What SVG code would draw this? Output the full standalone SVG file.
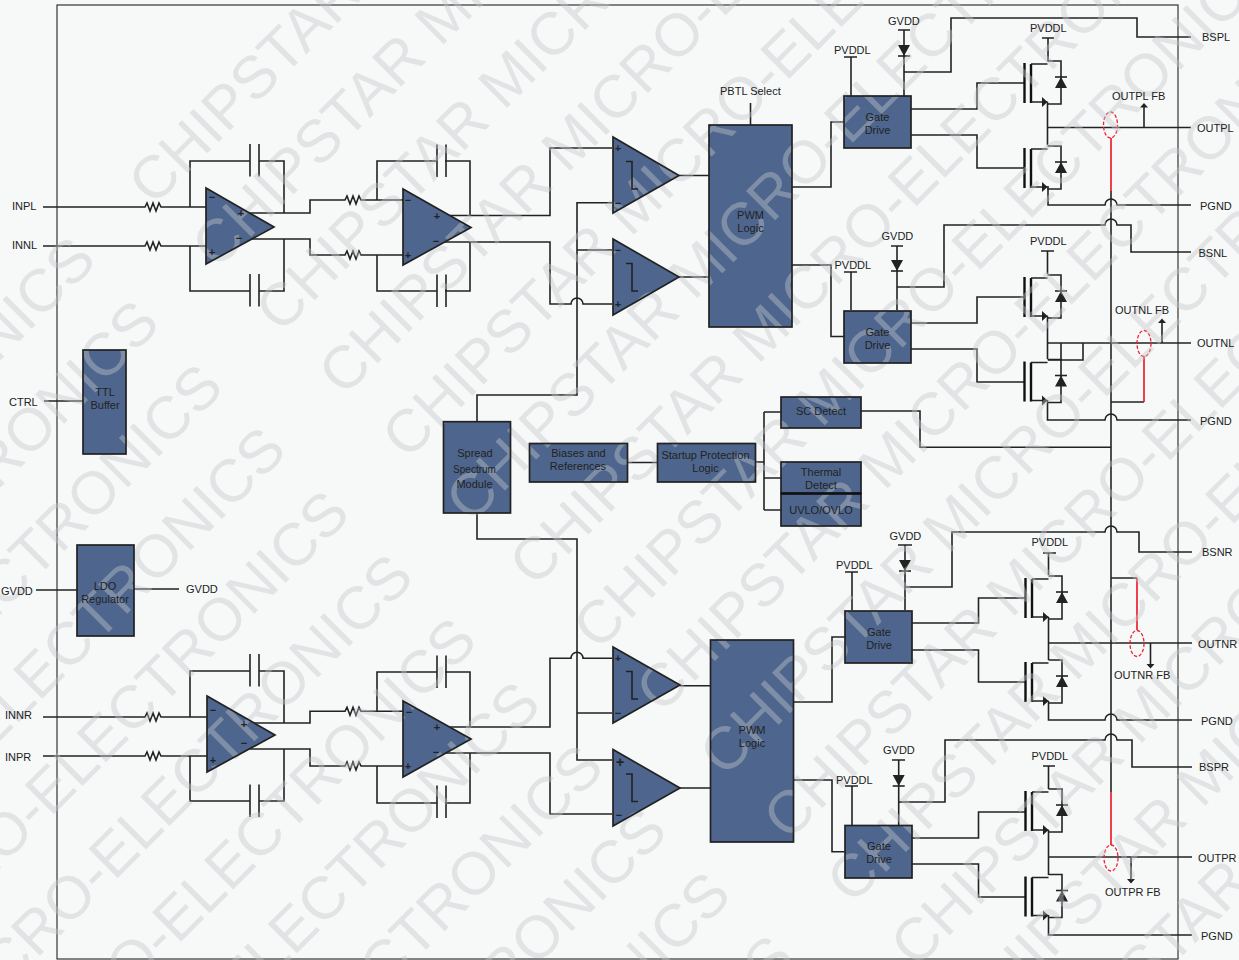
<svg xmlns="http://www.w3.org/2000/svg" width="1239" height="960" viewBox="0 0 1239 960">
<style>
text{font-family:"Liberation Sans",Arial,sans-serif;font-size:11px;fill:#222;dominant-baseline:central}
.c{text-anchor:middle}
.s{font-size:11px;font-weight:bold;text-anchor:middle}
text.w{font-size:60px;fill:#c3c6ca;fill-opacity:.42;dominant-baseline:auto}
.l,.l path{fill:none;stroke:#222;stroke-width:1.6}
.box{fill:#4e668d;stroke:#222;stroke-width:1.7}
.frame{fill:none;stroke:#222;stroke-width:1.7}
.tri{fill:#4e668d}
.d{fill:#222;stroke:none}
.w1{fill:none;stroke:#222;stroke-width:1.6}
.t{fill:none;stroke:#111;stroke-width:2.4}
.r{fill:none;stroke:#ee2030;stroke-width:1.7}
.e{fill:none;stroke:#ee2030;stroke-width:1.3;stroke-dasharray:3.5 1.8}
</style>
<defs>
<path id="res" class="w1" d="M0 0h2l2-4 3 8 3-8 3 8 3-8 2 4h2"/>
<g id="mos">
<path class="t" d="M0 0V40M6.500 1V40"/>
<path class="w1" d="M6.500 1H23M6.500 39H23M23-2H36.500V41H23M36.500-2V14M36.500 25V41"/>
<path class="d" d="M17.500 34 23 39 17.500 44ZM30.500 25H42.500L36.500 14Z"/>
<path class="w1" d="M30.500 14H42.500"/>
</g>
<g id="dio"><path class="d" d="M-6 0H6L0 11Z"/><path class="w1" d="M-6 11H6"/></g>
<g id="cap-h"><path class="w1" d="M0-16.500V16M9-16.500V16"/></g>
<g id="hys"><path class="w1" d="M0 0H6V27.500H12"/></g>
<path id="up" class="d" d="M0 0 4-4.500 8 0Z"/>
<g id="wm" transform="rotate(-45)">
<text class="w" x="-38" y="255">CHIPSTAR MICRO-ELECTRONICS</text>
<text class="w" x="-38" y="345">CHIPSTAR MICRO-ELECTRONICS</text>
<text class="w" x="-38" y="435">CHIPSTAR MICRO-ELECTRONICS</text>
<text class="w" x="-38" y="524">CHIPSTAR MICRO-ELECTRONICS</text>
<text class="w" x="-38" y="614">CHIPSTAR MICRO-ELECTRONICS</text>
<text class="w" x="-38" y="704">CHIPSTAR MICRO-ELECTRONICS</text>
<text class="w" x="-38" y="794">CHIPSTAR MICRO-ELECTRONICS</text>
<text class="w" x="-38" y="884">CHIPSTAR MICRO-ELECTRONICS</text>
<text class="w" x="-38" y="973">CHIPSTAR MICRO-ELECTRONICS</text>
<text class="w" x="-38" y="1063">CHIPSTAR MICRO-ELECTRONICS</text>
<text class="w" x="-38" y="1153">CHIPSTAR MICRO-ELECTRONICS</text>
<text class="w" x="-38" y="1243">CHIPSTAR MICRO-ELECTRONICS</text>
<text class="w" x="-38" y="1333">CHIPSTAR MICRO-ELECTRONICS</text>
<text class="w" x="-38" y="1422">CHIPSTAR MICRO-ELECTRONICS</text>
<text class="w" x="-38" y="1512">CHIPSTAR MICRO-ELECTRONICS</text>
<text class="w" x="-1078" y="255">CHIPSTAR MICRO-ELECTRONICS</text>
<text class="w" x="-1078" y="345">CHIPSTAR MICRO-ELECTRONICS</text>
<text class="w" x="-1078" y="435">CHIPSTAR MICRO-ELECTRONICS</text>
<text class="w" x="-1078" y="524">CHIPSTAR MICRO-ELECTRONICS</text>
<text class="w" x="-1078" y="614">CHIPSTAR MICRO-ELECTRONICS</text>
<text class="w" x="-1078" y="704">CHIPSTAR MICRO-ELECTRONICS</text>
<text class="w" x="-1078" y="794">CHIPSTAR MICRO-ELECTRONICS</text>
<text class="w" x="-1078" y="884">CHIPSTAR MICRO-ELECTRONICS</text>
<text class="w" x="-1078" y="973">CHIPSTAR MICRO-ELECTRONICS</text>
<text class="w" x="-1078" y="1063">CHIPSTAR MICRO-ELECTRONICS</text>
<text class="w" x="-1078" y="1153">CHIPSTAR MICRO-ELECTRONICS</text>
<text class="w" x="-1078" y="1243">CHIPSTAR MICRO-ELECTRONICS</text>
</g>
<clipPath id="k1"><path d="M206 188V264L274 227Z"/></clipPath>
<clipPath id="k2"><path d="M403 189V265L471 227.500Z"/></clipPath>
<clipPath id="k3"><path d="M613 137V213L679 175.500Z"/></clipPath>
<clipPath id="k4"><path d="M613 239V315L679 277Z"/></clipPath>
<clipPath id="k5"><path d="M207 696V772L275 735Z"/></clipPath>
<clipPath id="k6"><path d="M403 701V777L471 739Z"/></clipPath>
<clipPath id="k7"><path d="M613 647V723L680 685Z"/></clipPath>
<clipPath id="k8"><path d="M613 749.500V826L680 788Z"/></clipPath>
<clipPath id="b1"><rect x="709" y="125" width="83" height="202"/></clipPath>
<clipPath id="b2"><rect x="710.500" y="640" width="83" height="202"/></clipPath>
<clipPath id="b3"><rect x="83" y="350" width="43" height="104"/></clipPath>
<clipPath id="b4"><rect x="77" y="545" width="57" height="91"/></clipPath>
<clipPath id="b5"><rect x="443.500" y="421.700" width="67" height="91.300"/></clipPath>
<clipPath id="b6"><rect x="529.500" y="443.500" width="98" height="38.500"/></clipPath>
<clipPath id="b7"><rect x="657.500" y="443.500" width="98" height="38.500"/></clipPath>
<clipPath id="b8"><rect x="781" y="397" width="80" height="31"/></clipPath>
<clipPath id="b9"><rect x="781" y="462" width="80" height="31.500"/></clipPath>
<clipPath id="b10"><rect x="781" y="493.500" width="80" height="32.500"/></clipPath>
<clipPath id="b11"><rect x="844" y="96" width="67" height="52"/></clipPath>
<clipPath id="b12"><rect x="844" y="311" width="67" height="52"/></clipPath>
<clipPath id="b13"><rect x="845" y="611" width="67" height="52"/></clipPath>
<clipPath id="b14"><rect x="845" y="825.500" width="67" height="52.500"/></clipPath>
</defs>
<rect width="1239" height="960" fill="#f7f9f9"/>
<rect x="57" y="5" width="1121" height="954" fill="none" stroke="#333" stroke-width="1.200"/>

<g id="connectors" class="l">
<path d="M43 207H143M163 207H206M43 246H143M163 246H206"/>
<path d="M190 207V161H250M259 161H284V213M190 246V291H250M259 291H284V239"/>
<path d="M250 213H310V200H343M363 200H403M250 239H310V255H343M363 255H403"/>
<path d="M377 200V161H437M445 161H470V216M377 255V291H437M445 291H470V242"/>
<path d="M450 215.500H550V148H612M445 242H550V304H571A6 6 0 0 1 583 304H612"/>
<path d="M679 175.500H709M679 277H709"/>
<path d="M750.500 103V125"/>
<path d="M792 187H831V122H844M792 265H831V336.500H844"/>
<path d="M477 421.700V395H577V202.700H612M577 250H612"/>
<path d="M627.500 462.500H657.500M755.700 462H764M764 412V510M764 412H781M764 478H781M764 510H781"/>
<path d="M861 411H920V447.300H1111"/>
<path d="M477 513V539H577V760H612M577 713H612"/>
<path d="M44 401H83M36 590H77M134 589H179"/>
<path d="M43 717H143M163 717H207M43 756H143M163 756H207"/>
<path d="M190 717V671H250M259 671H284V723M190 756V801H250M259 801H284V749"/>
<path d="M250 723H310V711.300H343M363 711.300H403M250 749H310V766H343M363 766H403"/>
<path d="M377 711.300V672H437M445 672H470V727M377 766V803H437M445 803H470V753"/>
<path d="M450 727H550V658.300H571A6 6 0 0 1 583 658.300H612M445 753H550V814H612"/>
<path d="M680 685.700H710.500M680 788H710.500"/>
<path d="M793.500 702H832V637H845M793.500 780H832V851.700H845"/>
<path d="M1111 191V792"/>
<path d="M851 57V96M844 57H857M904 30V96M898 30H910M904 72H951V18H1137V37H1191"/>
<path d="M911 109H977V83H1024M911 135H977V168H1024"/>
<path d="M1048 38V61M1042 38H1054M1047.500 102V145M1048 186V205H1105A6 6 0 0 1 1117 205H1191M1047 127.500H1191M1144 127.500V107"/>
<path d="M851 272V310M844 272H857M897 246V310M891 246H903M897 287H944V225H1105A6 6 0 0 1 1117 225H1131V252H1191"/>
<path d="M911 323H977V297H1024M911 349H977V382H1024"/>
<path d="M1047.500 251V274M1041 251H1054M1047.500 316V359M1047 343H1191M1061 343V360M1083 343V360H1048M1047.500 400V420H1105A6 6 0 0 1 1117 420H1191M1162 343V323M1111 402H1144"/>
<path d="M852 572V610M845 572H858M905 545V610M898 545H912M905 587H952V532H1105A6 6 0 0 1 1117 532H1139V552H1192"/>
<path d="M912 623H978.500V598H1025M912 650H978.500V682H1025"/>
<path d="M1048.500 553V575M1043 553H1056M1048.500 617V660M1048 643H1192M1048.500 701V720H1105A6 6 0 0 1 1117 720H1192M1150.500 643V664M1111 578H1137"/>
<path d="M852 786V825M845 786H858M898.700 760V825M892 760H905M898.700 802H945V740H1105A6 6 0 0 1 1117 740H1132V767H1192"/>
<path d="M912 838H978.500V812H1025M912 864H978.500V897H1025"/>
<path d="M1048.500 766V789M1043 766H1055M1048.500 830V875M1048 857H1192M1048.500 915V935H1192M1131 857V879"/>
</g>
<g id="feedback-red">
<path class="r" d="M1111 138V191M1144 402V356M1137 578V630M1111 792V845"/>
<ellipse class="e" cx="1110.500" cy="125" rx="7" ry="13"/>
<ellipse class="e" cx="1144" cy="343.500" rx="7" ry="13"/>
<ellipse class="e" cx="1137" cy="643.500" rx="7" ry="13"/>
<ellipse class="e" cx="1111" cy="858" rx="7" ry="13"/>
</g>

<g id="passives-upper">
<use href="#res" x="143" y="207"/><use href="#res" x="143" y="246"/>
<use href="#res" x="343" y="200"/><use href="#res" x="343" y="255"/>
<use href="#cap-h" x="250" y="160.500"/><use href="#cap-h" x="250" y="290.500"/>
<use href="#cap-h" x="437" y="161"/><use href="#cap-h" x="437" y="291"/>
</g>
<g id="passives-lower">
<use href="#res" x="143" y="717"/><use href="#res" x="143" y="756"/>
<use href="#res" x="343" y="711.300"/><use href="#res" x="343" y="766"/>
<use href="#cap-h" x="250" y="670.500"/><use href="#cap-h" x="250" y="801"/>
<use href="#cap-h" x="437" y="672"/><use href="#cap-h" x="437" y="802"/>
</g>
<g id="mos-pl"><use href="#mos" x="1024.500" y="63"/><use href="#mos" x="1024.500" y="148"/></g>
<g id="mos-nl"><use href="#mos" x="1024.500" y="277"/><use href="#mos" x="1024.500" y="361.500"/></g>
<g id="mos-nr"><use href="#mos" x="1025.500" y="578"/><use href="#mos" x="1025.500" y="662"/></g>
<g id="mos-pr"><use href="#mos" x="1025.500" y="791"/><use href="#mos" x="1025.500" y="876.500"/></g>
<g id="diodes"><use href="#dio" x="904" y="45"/><use href="#dio" x="897" y="260"/><use href="#dio" x="905" y="560"/><use href="#dio" x="898.700" y="775"/></g>
<g id="fb-arrows"><use href="#up" x="1140" y="107.500"/><use href="#up" x="1158" y="323"/><use href="#up" transform="translate(1146.500 664) scale(1 -1)"/><use href="#up" transform="translate(1127 879) scale(1 -1)"/></g>

<g id="watermark"><use href="#wm"/></g>

<g id="amp-l1"><path class="tri" d="M206 188V264L274 227Z"/><use href="#wm" clip-path="url(#k1)"/><path class="frame" d="M206 188V264L274 227Z"/><text class="s" x="212" y="197">−</text><text class="s" x="212" y="252">+</text><text class="s" x="241" y="213">+</text><text class="s" x="239" y="238">−</text></g>
<g id="amp-l2"><path class="tri" d="M403 189V265L471 227.500Z"/><use href="#wm" clip-path="url(#k2)"/><path class="frame" d="M403 189V265L471 227.500Z"/><text class="s" x="408" y="200">−</text><text class="s" x="408" y="255">+</text><text class="s" x="437" y="216">+</text><text class="s" x="436" y="241">−</text></g>
<g id="cmp-l1"><path class="tri" d="M613 137V213L679 175.500Z"/><use href="#wm" clip-path="url(#k3)"/><path class="frame" d="M613 137V213L679 175.500Z"/><text class="s" x="618" y="148">+</text><text class="s" x="618" y="203">−</text><use href="#hys" x="626" y="161.500"/></g>
<g id="cmp-l2"><path class="tri" d="M613 239V315L679 277Z"/><use href="#wm" clip-path="url(#k4)"/><path class="frame" d="M613 239V315L679 277Z"/><text class="s" x="618" y="250">−</text><text class="s" x="618" y="304">+</text><use href="#hys" x="626" y="263.500"/></g>
<g id="pwm-l"><rect class="tri" x="709" y="125" width="83" height="202"/><use href="#wm" clip-path="url(#b1)"/><rect class="frame" x="709" y="125" width="83" height="202"/><text class="c" x="750.500" y="215">PWM</text><text class="c" x="750.500" y="228">Logic</text></g>

<g id="amp-r1"><path class="tri" d="M207 696V772L275 735Z"/><use href="#wm" clip-path="url(#k5)"/><path class="frame" d="M207 696V772L275 735Z"/><text class="s" x="213" y="710">−</text><text class="s" x="213" y="760">+</text><text class="s" x="244" y="724">+</text><text class="s" x="244" y="743">−</text></g>
<g id="amp-r2"><path class="tri" d="M403 701V777L471 739Z"/><use href="#wm" clip-path="url(#k6)"/><path class="frame" d="M403 701V777L471 739Z"/><text class="s" x="409" y="712">−</text><text class="s" x="408" y="766">+</text><text class="s" x="437" y="727">+</text><text class="s" x="436" y="752">−</text></g>
<g id="cmp-r1"><path class="tri" d="M613 647V723L680 685Z"/><use href="#wm" clip-path="url(#k7)"/><path class="frame" d="M613 647V723L680 685Z"/><text class="s" x="618" y="658">+</text><text class="s" x="618" y="713">−</text><use href="#hys" x="626" y="671.500"/></g>
<g id="cmp-r2"><path class="tri" d="M613 749.500V826L680 788Z"/><use href="#wm" clip-path="url(#k8)"/><path class="frame" d="M613 749.500V826L680 788Z"/><text class="s" x="620" y="762" style="font-size:14px">+</text><text class="s" x="619" y="815">−</text><use href="#hys" x="626" y="774"/></g>
<g id="pwm-r"><rect class="tri" x="710.500" y="640" width="83" height="202"/><use href="#wm" clip-path="url(#b2)"/><rect class="frame" x="710.500" y="640" width="83" height="202"/><text class="c" x="752" y="730">PWM</text><text class="c" x="752" y="743">Logic</text></g>

<g id="ttl"><rect class="tri" x="83" y="350" width="43" height="104"/><use href="#wm" clip-path="url(#b3)"/><rect class="frame" x="83" y="350" width="43" height="104"/><text class="c" x="105" y="392">TTL</text><text class="c" x="105" y="405">Buffer</text></g>
<g id="ldo"><rect class="tri" x="77" y="545" width="57" height="91"/><use href="#wm" clip-path="url(#b4)"/><rect class="frame" x="77" y="545" width="57" height="91"/><text class="c" x="105" y="586">LDO</text><text class="c" x="105" y="599">Regulator</text></g>
<g id="spread"><rect class="tri" x="443.500" y="421.700" width="67" height="91.300"/><use href="#wm" clip-path="url(#b5)"/><rect class="frame" x="443.500" y="421.700" width="67" height="91.300"/><text class="c" x="475" y="453">Spread</text><text class="c" x="474.500" y="469" style="font-size:10px">Spectrum</text><text class="c" x="474.500" y="484">Module</text></g>
<g id="biases"><rect class="tri" x="529.500" y="443.500" width="98" height="38.500"/><use href="#wm" clip-path="url(#b6)"/><rect class="frame" x="529.500" y="443.500" width="98" height="38.500"/><text class="c" x="578.500" y="453">Biases and</text><text class="c" x="578" y="466">References</text></g>
<g id="startup"><rect class="tri" x="657.500" y="443.500" width="98" height="38.500"/><use href="#wm" clip-path="url(#b7)"/><rect class="frame" x="657.500" y="443.500" width="98" height="38.500"/><text class="c" x="705.500" y="455">Startup Protection</text><text class="c" x="705.500" y="468">Logic</text></g>
<g id="sc"><rect class="tri" x="781" y="397" width="80" height="31"/><use href="#wm" clip-path="url(#b8)"/><rect class="frame" x="781" y="397" width="80" height="31"/><text class="c" x="821" y="411">SC Detect</text></g>
<g id="thermal"><rect class="tri" x="781" y="462" width="80" height="31.500"/><use href="#wm" clip-path="url(#b9)"/><rect class="frame" x="781" y="462" width="80" height="31.500"/><text class="c" x="821" y="472">Thermal</text><text class="c" x="821" y="485">Detect</text></g>
<g id="uvlo"><rect class="tri" x="781" y="493.500" width="80" height="32.500"/><use href="#wm" clip-path="url(#b10)"/><rect class="frame" x="781" y="493.500" width="80" height="32.500"/><path d="M781 493.500H861" stroke="#111" stroke-width="2.400"/><text class="c" x="821" y="510">UVLO/OVLO</text></g>

<g id="gd-pl"><rect class="tri" x="844" y="96" width="67" height="52"/><use href="#wm" clip-path="url(#b11)"/><rect class="frame" x="844" y="96" width="67" height="52"/><text class="c" x="877.500" y="116.500">Gate</text><text class="c" x="877.500" y="130">Drive</text></g>
<g id="gd-nl"><rect class="tri" x="844" y="311" width="67" height="52"/><use href="#wm" clip-path="url(#b12)"/><rect class="frame" x="844" y="311" width="67" height="52"/><text class="c" x="877.500" y="331.500">Gate</text><text class="c" x="877.500" y="345">Drive</text></g>
<g id="gd-nr"><rect class="tri" x="845" y="611" width="67" height="52"/><use href="#wm" clip-path="url(#b13)"/><rect class="frame" x="845" y="611" width="67" height="52"/><text class="c" x="879" y="631.500">Gate</text><text class="c" x="879" y="644.500">Drive</text></g>
<g id="gd-pr"><rect class="tri" x="845" y="825.500" width="67" height="52.500"/><use href="#wm" clip-path="url(#b14)"/><rect class="frame" x="845" y="825.500" width="67" height="52.500"/><text class="c" x="879" y="846">Gate</text><text class="c" x="879" y="859">Drive</text></g>

<g id="labels">
<text x="720" y="90.500">PBTL Select</text>
<text x="12" y="206">INPL</text><text x="12" y="245">INNL</text><text x="9" y="401.500">CTRL</text><text x="1" y="590.500">GVDD</text><text x="186" y="589">GVDD</text><text x="5" y="714.500">INNR</text><text x="5" y="757">INPR</text>
<text x="834" y="50">PVDDL</text><text x="888" y="21">GVDD</text><text x="1030" y="28">PVDDL</text>
<text x="834.500" y="265">PVDDL</text><text x="881.500" y="236">GVDD</text><text x="1030" y="241">PVDDL</text>
<text x="836" y="565">PVDDL</text><text x="889.500" y="535.500">GVDD</text><text x="1031.500" y="542">PVDDL</text>
<text x="836" y="780">PVDDL</text><text x="883" y="750">GVDD</text><text x="1031.500" y="755.500">PVDDL</text>
<text x="1202" y="37">BSPL</text><text x="1197" y="128">OUTPL</text><text x="1200" y="206">PGND</text><text x="1112" y="95.500">OUTPL FB</text>
<text x="1198.500" y="253">BSNL</text><text x="1197" y="343">OUTNL</text><text x="1200" y="421">PGND</text><text x="1115" y="310">OUTNL FB</text>
<text x="1202" y="552">BSNR</text><text x="1198" y="643.500">OUTNR</text><text x="1201" y="721">PGND</text><text x="1114" y="675">OUTNR FB</text>
<text x="1199" y="767">BSPR</text><text x="1198" y="857.500">OUTPR</text><text x="1201" y="936">PGND</text><text x="1105" y="891.500">OUTPR FB</text>
</g>
</svg>
